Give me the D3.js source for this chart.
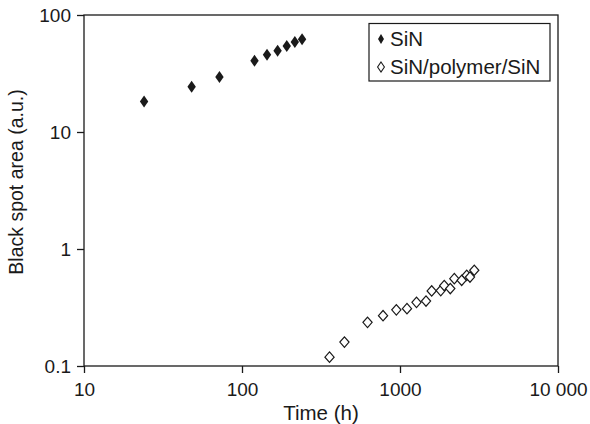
<!DOCTYPE html>
<html>
<head>
<meta charset="utf-8">
<script src="https://cdn.jsdelivr.net/npm/d3@7"></script>
<style>
  body { margin: 0; background: #fff; }
  text { font-family: "Liberation Sans", Arial, sans-serif; fill: #1a1a1a; }
</style>
</head>
<body>
<script>
const width = 590;
const height = 424;
const margin = {left: 84, right: 32, top: 15, bottom: 58};

// SiN (filled diamonds)
const sin_time = [24, 48, 72, 120, 144, 168, 192, 216, 240];
const sin_area = [18.2, 24.4, 29.5, 40.7, 45.8, 49.5, 54.3, 58.8, 62];

// SiN/polymer/SiN (open diamonds)
const spn_time = [358, 445, 623, 781, 948, 1107, 1272, 1461, 1587, 1811, 1906, 2081, 2207, 2457, 2644, 2773, 2952];
const spn_area = [0.119, 0.160, 0.236, 0.269, 0.302, 0.309, 0.350, 0.359, 0.438, 0.441, 0.487, 0.459, 0.558, 0.540, 0.596, 0.576, 0.658];

const x_ticks = [10, 100, 1000, 10000];
const x_labels = ['10', '100', '1000', '10 000'];
const y_ticks = [0.1, 1, 10, 100];
const y_labels = ['0.1', '1', '10', '100'];
const series_names = ['SiN', 'SiN/polymer/SiN'];

const svg = d3.select('body')
    .append('svg')
    .attr('width', width)
    .attr('height', height);

const x = d3.scaleLog()
    .domain([10, 10000])
    .range([margin.left, width - margin.right]);
const y = d3.scaleLog()
    .domain([0.1, 100])
    .range([height - margin.bottom, margin.top]);

// frame
svg.append('rect')
    .attr('x', margin.left)
    .attr('y', margin.top)
    .attr('width', width - margin.left - margin.right)
    .attr('height', height - margin.top - margin.bottom)
    .attr('fill', 'none')
    .attr('stroke', '#1a1a1a')
    .attr('stroke-width', 1.3);

const x_axis = svg.append('g')
    .attr('transform', `translate(0,${height - margin.bottom})`)
    .call(d3.axisBottom(x)
        .tickValues(x_ticks)
        .tickFormat((d, i) => x_labels[i])
        .tickSize(7)
        .tickPadding(10));
const y_axis = svg.append('g')
    .attr('transform', `translate(${margin.left},0)`)
    .call(d3.axisLeft(y)
        .tickValues(y_ticks)
        .tickFormat((d, i) => y_labels[i])
        .tickSize(7)
        .tickPadding(6));
[x_axis, y_axis].forEach(a => {
    a.select('.domain').remove();
    a.selectAll('line').attr('stroke', '#1a1a1a').attr('stroke-width', 1.3);
    a.selectAll('text').attr('font-size', 19).attr('font-family', '"Liberation Sans", Arial, sans-serif').attr('fill', '#1a1a1a');
});

svg.append('text')
    .attr('x', 321)
    .attr('y', 420)
    .attr('text-anchor', 'middle')
    .attr('font-size', 20.5)
    .text('Time (h)');
svg.append('text')
    .attr('transform', 'translate(23,182) rotate(-90)')
    .attr('text-anchor', 'middle')
    .attr('font-size', 19.5)
    .text('Black spot area (a.u.)');

const diamond = (w, h) => `M0,${-h}L${w},0L0,${h}L${-w},0Z`;

svg.append('g')
    .selectAll('path')
    .data(d3.zip(sin_time, sin_area))
    .enter()
    .append('path')
    .attr('transform', d => `translate(${x(d[0])},${y(d[1])})`)
    .attr('d', diamond(4.2, 6))
    .attr('fill', '#1a1a1a');

svg.append('g')
    .selectAll('path')
    .data(d3.zip(spn_time, spn_area))
    .enter()
    .append('path')
    .attr('transform', d => `translate(${x(d[0])},${y(d[1])})`)
    .attr('d', diamond(4.6, 5.2))
    .attr('fill', 'white')
    .attr('stroke', '#1a1a1a')
    .attr('stroke-width', 1.2);

// legend
const legend = svg.append('g');
legend.append('rect')
    .attr('x', 369)
    .attr('y', 23.5)
    .attr('width', 181)
    .attr('height', 57.5)
    .attr('fill', 'white')
    .attr('stroke', '#1a1a1a')
    .attr('stroke-width', 1.2);
legend.append('path')
    .attr('transform', 'translate(381,39)')
    .attr('d', diamond(3, 5))
    .attr('fill', '#1a1a1a');
legend.append('path')
    .attr('transform', 'translate(381,67)')
    .attr('d', diamond(3.4, 5))
    .attr('fill', 'none')
    .attr('stroke', '#1a1a1a')
    .attr('stroke-width', 1.1);
legend.selectAll('text')
    .data(series_names)
    .enter()
    .append('text')
    .attr('x', 390)
    .attr('y', (d, i) => 45.5 + i * 28)
    .attr('font-size', 20.5)
    .text(d => d);
</script>
</body>
</html>
